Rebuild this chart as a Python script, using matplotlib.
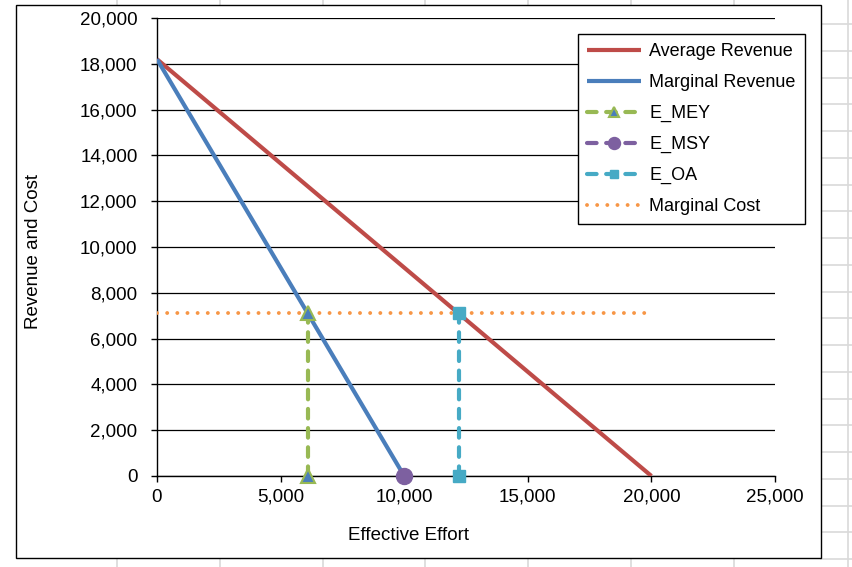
import matplotlib
matplotlib.use("Agg")
import matplotlib.pyplot as plt
from matplotlib.lines import Line2D
from matplotlib.patches import Rectangle
from matplotlib.ticker import FuncFormatter
import numpy as np

plt.rcParams['font.family'] = ['Liberation Sans', 'DejaVu Sans']

# ---- data ----
ar_x = [0, 20000]
ar_y = [18200, 0]
mr_x = [0, 10000]
mr_y = [18200, 0]
mey_x = [6100, 6100]
mey_y = [0, 7100]
msy_x = [10000]
msy_y = [0]
oa_x = [12200, 12200]
oa_y = [0, 7100]
mc_x = [0, 20000]
mc_y = [7100, 7100]

x_ticks = [0, 5000, 10000, 15000, 20000, 25000]
y_ticks = list(range(0, 20001, 2000))

# colours
C_AR = '#BE4B48'
C_MR = '#4A7EBB'
C_MEY = '#98B954'
C_MSY = '#7D60A0'
C_OA = '#46AAC5'
C_MC = '#F79646'

W, H = 852, 567
fig = plt.figure(figsize=(W / 100, H / 100), dpi=100)

def fx(px):
    return px / W

def fy(py):
    return 1 - py / H

# spreadsheet background grid (decoration)
gcol = '#d9d9d9'
for xv in [117, 220, 323, 425, 528, 631, 734]:
    fig.add_artist(Line2D([fx(xv), fx(xv)], [fy(0), fy(6)], color=gcol, lw=1.2, zorder=-3))
    fig.add_artist(Line2D([fx(xv), fx(xv)], [fy(558), fy(567)], color=gcol, lw=1.2, zorder=-3))
fig.add_artist(Line2D([fx(848), fx(848)], [0, 1], color=gcol, lw=1.2, zorder=-3))
for yv in np.arange(24.2, 567, 26.75):
    fig.add_artist(Line2D([fx(821), 1], [fy(yv), fy(yv)], color=gcol, lw=1.2, zorder=-3))

# chart frame
fig.add_artist(Rectangle((fx(16), fy(558)), fx(821) - fx(16), fy(5) - fy(558),
                         facecolor='white', edgecolor='black', lw=1.0, zorder=-1))

ax = fig.add_axes([fx(157), fy(476), fx(775) - fx(157), fy(18) - fy(476)])
ax.set_facecolor('none')
ax.set_xlim(0, 25000)
ax.set_ylim(0, 20000)
ax.set_xticks(x_ticks)
ax.set_yticks(y_ticks)
fmt = FuncFormatter(lambda v, p: f"{int(v):,}")
ax.xaxis.set_major_formatter(fmt)
ax.yaxis.set_major_formatter(fmt)
ax.tick_params(axis='y', length=4.5, width=1.0, pad=9.5, labelsize=13.5, direction='out')
ax.tick_params(axis='x', length=4.3, width=1.0, pad=5.0, labelsize=13.5, direction='out')
for s in ['top', 'right']:
    ax.spines[s].set_visible(False)
for s in ['left', 'bottom']:
    ax.spines[s].set_linewidth(1.0)
ax.grid(axis='y', color='black', lw=0.9)
ax.set_axisbelow(True)

ax.plot(ar_x, ar_y, color=C_AR, lw=3.0, solid_capstyle='butt', label='Average Revenue', zorder=3)
ax.plot(mr_x, mr_y, color=C_MR, lw=3.0, solid_capstyle='butt', label='Marginal Revenue', zorder=3)
dash = (0, (2.3, 2.3))
ax.plot(mey_x, mey_y, color=C_MEY, lw=3.0, linestyle=dash, dash_capstyle='round',
        marker='^', markersize=10, markerfacecolor=C_MR, markeredgecolor=C_MEY,
        markeredgewidth=1.5, label='E_MEY', zorder=4, clip_on=False)
ax.plot(msy_x, msy_y, color=C_MSY, lw=3.0, linestyle=dash, dash_capstyle='round',
        marker='o', markersize=11.5, markerfacecolor=C_MSY, markeredgecolor=C_MSY,
        label='E_MSY', zorder=4, clip_on=False)
ax.plot(oa_x, oa_y, color=C_OA, lw=3.0, linestyle=dash, dash_capstyle='round',
        marker='s', markersize=8.5, markerfacecolor=C_OA, markeredgecolor=C_OA,
        label='E_OA', zorder=4, clip_on=False)
ax.plot(mc_x, mc_y, color=C_MC, lw=2.8, linestyle=(0, (0.01, 2.6)), dash_capstyle='round',
        label='Marginal Cost', zorder=3)

leg = ax.legend(loc='upper left', bbox_to_anchor=(fx(578), fy(34)), bbox_transform=fig.transFigure,
                borderaxespad=0, fontsize=13, handlelength=3.0, handletextpad=0.45,
                labelspacing=0.77, borderpad=0.5, fancybox=False, framealpha=1,
                edgecolor='black', markerscale=0.75)
leg.get_frame().set_linewidth(1.0)

fig.text(fx(409), fy(540), 'Effective Effort', ha='center', va='baseline', fontsize=13.5)
fig.text(fx(38.5), fy(251.5), 'Revenue and Cost', ha='center', va='baseline', rotation=90,
         rotation_mode='anchor', fontsize=13.5)

fig.savefig('out.png', dpi=100)
